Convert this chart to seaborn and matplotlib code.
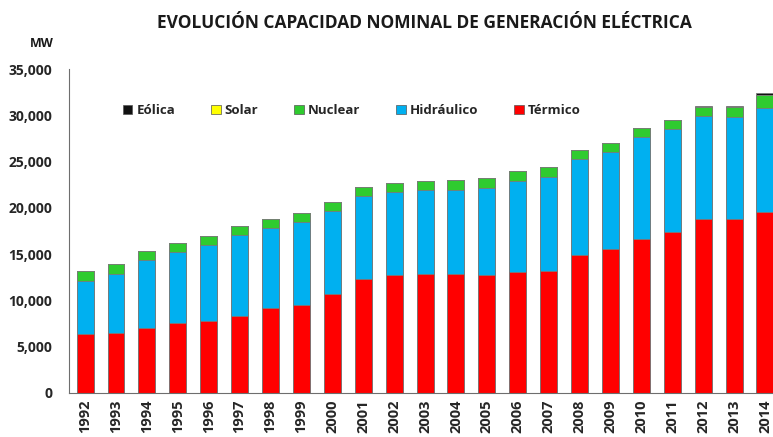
import numpy as np
import pandas as pd
import matplotlib
matplotlib.use("Agg")
import matplotlib.pyplot as plt
import seaborn as sns
from matplotlib.patches import Patch
from matplotlib.ticker import FuncFormatter

# Data (MW)
years = [str(y) for y in range(1992, 2015)]
termico = [6400, 6510, 7050, 7590, 7800, 8340, 9130, 9490, 10710, 12330, 12730, 12870,
           12870, 12730, 13060, 13160, 14960, 15540, 16620, 17370, 18810, 18810, 19600]
hidraulico = [5730, 6330, 7330, 7620, 8240, 8770, 8740, 8990, 8960, 8990, 9020, 9070,
              9070, 9450, 9880, 10210, 10290, 10500, 11040, 11150, 11150, 11040, 11150]
nuclear = [1080, 1080, 970, 980, 960, 970, 940, 1010, 970, 940, 970, 970,
           1070, 1080, 1050, 1020, 970, 970, 1000, 940, 930, 1010, 1440]
solar = [0, 0, 0, 0, 0, 0, 0, 0, 0, 0, 0, 0,
         0, 0, 0, 0, 0, 0, 0, 0, 10, 10, 10]
eolica = [0, 0, 0, 0, 0, 0, 0, 0, 0, 0, 0, 0,
          0, 0, 0, 0, 0, 0, 0, 30, 80, 90, 220]

series = ["Térmico", "Hidráulico", "Nuclear", "Solar", "Eólica"]
colors = {"Térmico": "#FF0000", "Hidráulico": "#00B0F0", "Nuclear": "#2FCB2F",
          "Solar": "#FFFF00", "Eólica": "#111111"}

df = pd.DataFrame({"year": years, "Térmico": termico, "Hidráulico": hidraulico,
                   "Nuclear": nuclear, "Solar": solar, "Eólica": eolica})

sns.set_style("white")
plt.rcParams["font.family"] = ["Open Sans", "DejaVu Sans"]

fig = plt.figure(figsize=(7.73, 4.37), dpi=100)
ax = fig.add_axes([0.0893, 0.1007, 0.9107, 0.7414])

# stacked bars: draw cumulative totals from the top layer down
cum = df[series].cumsum(axis=1)
for name in reversed(series):
    sns.barplot(x=df["year"], y=cum[name], color=colors[name], width=0.55,
                edgecolor="#7a7a7a", linewidth=0.6, saturation=1, ax=ax)

ax.set_ylim(0, 35000)
ax.set_xlim(-0.52, 22.26)
ax.set_yticks(np.arange(0, 35001, 5000))
ax.yaxis.set_major_formatter(FuncFormatter(lambda v, p: f"{int(v):,}"))
ax.set_xlabel("")
ax.set_ylabel("")
ax.tick_params(axis="both", length=0, colors="#262626")
ax.tick_params(axis="y", labelsize=10, pad=12)
ax.tick_params(axis="x", labelsize=10.5, pad=5)
for lbl in ax.get_yticklabels():
    lbl.set_fontweight("bold")
for lbl in ax.get_xticklabels():
    lbl.set_fontweight("bold")
    lbl.set_rotation(90)

sns.despine(ax=ax, top=True, right=True)
ax.spines["left"].set_color("#6e6e6e")
ax.spines["bottom"].set_color("#6e6e6e")

fig.text(0.549, 0.948, "EVOLUCIÓN CAPACIDAD NOMINAL DE GENERACIÓN ELÉCTRICA",
         ha="center", va="center", fontsize=12.5, fontweight="bold", color="#1a1a1a")
fig.text(0.054, 0.9, "MW", ha="center", va="center", fontsize=9,
         fontweight="bold", color="#1a1a1a")

legend_order = ["Eólica", "Solar", "Nuclear", "Hidráulico", "Térmico"]
handles = [Patch(facecolor=colors[n], edgecolor="#555555", linewidth=0.5) for n in legend_order]
leg = ax.legend(handles, legend_order, ncol=5, frameon=False, loc="center left",
                bbox_to_anchor=(0.06, 0.872), handlelength=0.7, handleheight=0.7,
                handletextpad=0.3, columnspacing=2.75, prop={"weight": "bold", "size": 9.5})

fig.savefig("out.png", dpi=100)
